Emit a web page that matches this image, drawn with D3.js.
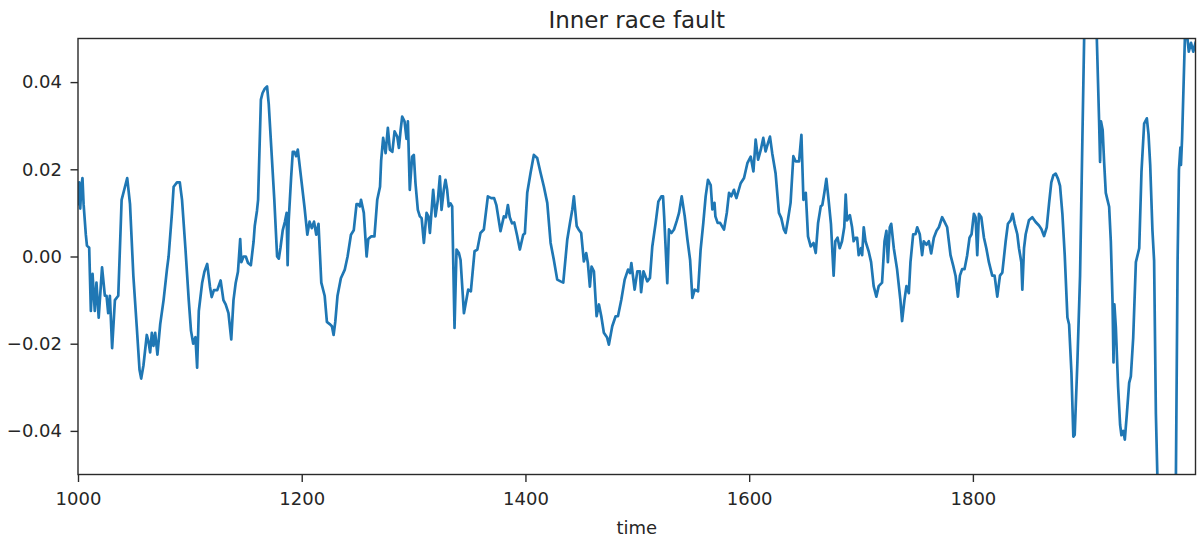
<!DOCTYPE html>
<html>
<head>
<meta charset="utf-8">
<script src="https://cdn.jsdelivr.net/npm/d3@7"></script>
<style>
  html, body { margin: 0; padding: 0; background: #ffffff; }
  svg { display: block; font-family: "DejaVu Sans", sans-serif; }
</style>
</head>
<body>
<svg id="chart" width="1204" height="542"></svg>
<script>
// Vibration signal, samples 1000–1999
const times = [
  1000, 1001, 1002, 1003, 1004, 1005, 1007, 1008, 1010, 1011.5, 1013, 1015, 1016.5, 1018.5, 1021.5, 1024, 1025.5, 1027, 1028.5, 1030.5,
  1033, 1036, 1039, 1042, 1044, 1046.5, 1049.5, 1052.5, 1055, 1056.5, 1058.5, 1061.5, 1063, 1064.5, 1066, 1067.5, 1069, 1071, 1073.5, 1076.5,
  1079.5, 1081, 1084, 1085.5, 1088.5, 1091, 1093, 1096, 1099, 1101, 1103, 1105, 1106.5, 1108, 1111, 1113, 1115.5, 1118, 1119.5, 1121.5,
  1124.5, 1127.5, 1130, 1132, 1134.5, 1137, 1139, 1141, 1143, 1145, 1146, 1148, 1150, 1152, 1154.5, 1157, 1158, 1160, 1161, 1163.5,
  1165, 1167, 1169, 1170.5, 1173, 1175.5, 1178, 1179.5, 1181, 1183, 1185, 1186.5, 1187.4, 1188.3, 1190.5, 1192, 1193.5, 1195, 1196.5, 1199,
  1202.5, 1205, 1207, 1209, 1211, 1213, 1215, 1217.5, 1220.5, 1222.5, 1225, 1227, 1228.5, 1230, 1232, 1235, 1238.5, 1241, 1244, 1246.5,
  1249, 1250.5, 1252, 1253, 1255.5, 1258, 1259.5, 1262, 1265, 1267.5, 1270, 1271, 1272.8, 1275, 1277, 1278.8, 1281, 1283, 1285.4, 1286.9,
  1288.4, 1289.8, 1291.9, 1293.7, 1294.9, 1296.6, 1298.7, 1300.2, 1301.7, 1303.8, 1305.6, 1307.2, 1309.2, 1311.6, 1313.2, 1314.6, 1317.5, 1319.6, 1321.7, 1323.5,
  1325, 1327, 1328.5, 1330, 1331.4, 1333, 1334.5, 1336.6, 1338.4, 1340.5, 1342, 1345, 1348.8, 1351.2, 1354.5, 1357, 1359.8, 1362.8, 1366.4, 1369.4,
  1372, 1374, 1377.7, 1380.7, 1382.5, 1384.3, 1386, 1388, 1390, 1392.4, 1395, 1398, 1399.5, 1401.6, 1404.6, 1407.5, 1410.5, 1413.5, 1416.5, 1419.5,
  1422.5, 1425.4, 1428.4, 1431.4, 1433.8, 1437.4, 1439.8, 1441.9, 1443.3, 1445.8, 1447.5, 1449.8, 1452.2, 1454.3, 1455.8, 1457.6, 1459.1, 1461.2, 1463.6, 1465.7,
  1467.8, 1470.1, 1473, 1474.6, 1477.6, 1480.6, 1482.7, 1485.7, 1488.7, 1491.7, 1493.5, 1494.7, 1497.6, 1500, 1502.3, 1503.4, 1505.5, 1508.9, 1511.3, 1513.4,
  1516.4, 1518.8, 1521.5, 1523, 1524, 1526.8, 1528.3, 1530.5, 1532.8, 1535.2, 1537.3, 1539.7, 1542.4, 1544.8, 1547.2, 1549.2, 1551.3, 1554.3, 1556.6, 1559,
  1561.1, 1563.2, 1565.6, 1567.1, 1569, 1569.8, 1571.8, 1574, 1577.5, 1580, 1582, 1584, 1586.4, 1588, 1588.6, 1592.4, 1595.4, 1598.4, 1601.4, 1603.8,
  1605.8, 1608, 1610.4, 1612.6, 1614.7, 1616.8, 1618.6, 1620.6, 1623.6, 1626.6, 1628.7, 1631, 1632.6, 1634.7, 1637, 1639.5, 1641.6, 1644.6, 1646.7, 1648.5,
  1650.6, 1652.6, 1655, 1657.5, 1659.5, 1661.6, 1664, 1665.4, 1667.2, 1669, 1671, 1673.1, 1675.5, 1677, 1679, 1680.9, 1683, 1685, 1686.3, 1687.5,
  1690, 1692, 1693.4, 1695, 1696.5, 1697.9, 1700, 1701, 1702.4, 1704, 1706.9, 1709, 1711.3, 1713.7, 1715.8, 1718.8, 1721, 1722.7, 1724, 1725.7,
  1727, 1729.3, 1732.2, 1735.2, 1736.7, 1738.8, 1740.6, 1742.7, 1744.2, 1746.6, 1748.7, 1750.2, 1752.5, 1754.6, 1756.1, 1758.5, 1760.6, 1762.7, 1765.1, 1767.5,
  1769.6, 1772.5, 1774, 1777, 1780, 1782.4, 1784.5, 1786.6, 1788.4, 1790.4, 1792.5, 1794.9, 1797, 1798.8, 1800.9, 1802.4, 1803.9, 1805.4, 1807.5, 1809.9,
  1812, 1814.3, 1817.3, 1819.4, 1821.8, 1824.2, 1826.3, 1829.3, 1831.3, 1833.7, 1835.5, 1837.3, 1839.7, 1841.2, 1843.3, 1844.2, 1845.7, 1847.2, 1850.1, 1853.1,
  1856.1, 1859.1, 1861.2, 1863.6, 1866, 1868.1, 1870.1, 1871.9, 1874, 1876.1, 1877.9, 1880, 1882.1, 1884.5, 1886, 1888.1, 1889.8, 1891, 1893.4, 1895.8,
  1897.9, 1900, 1903, 1906, 1909, 1911, 1912.8, 1913.7, 1914.5, 1916, 1917.3, 1918.8, 1920.3, 1921.8, 1923.3, 1924.8, 1925.7, 1926.5, 1927.8, 1929.8,
  1931.6, 1932.8, 1934.5, 1935.8, 1937.6, 1939.7, 1941.2, 1943.3, 1945.7, 1948.7, 1950.7, 1953.1, 1955.5, 1957, 1958.5, 1960.5, 1962, 1963.6, 1966, 1969,
  1973, 1977, 1980, 1981.5, 1983, 1984.2, 1985.5, 1986, 1987, 1989.5, 1991, 1993, 1995, 1997, 1999
];

const amplitude = [
  0.012, 0.017, 0.011, 0.016, 0.018, 0.012, 0.005, 0.0025, 0.002, -0.0125, -0.004, -0.0125, -0.006, -0.014, -0.0025, -0.009, -0.009, -0.013, -0.009, -0.021,
  -0.010, -0.009, 0.013, 0.016, 0.018, 0.012, -0.0045, -0.016, -0.026, -0.028, -0.025, -0.018, -0.0195, -0.022, -0.0175, -0.0205, -0.0175, -0.0225, -0.0155, -0.010,
  -0.003, 0.000, 0.010, 0.016, 0.017, 0.017, 0.013, 0.002, -0.010, -0.017, -0.020, -0.0185, -0.0255, -0.0125, -0.006, -0.0035, -0.0017, -0.007, -0.0093, -0.0077,
  -0.0077, -0.0055, -0.010, -0.011, -0.013, -0.019, -0.010, -0.006, -0.0035, 0.004, -0.0013, 0.000, 0.000, -0.0015, -0.002, 0.0035, 0.007, 0.0105, 0.013, 0.036,
  0.0375, 0.0385, 0.039, 0.035, 0.024, 0.013, 0.000, -0.0005, 0.002, 0.006, 0.008, 0.010, -0.002, 0.008, 0.018, 0.024, 0.024, 0.023, 0.0245, 0.019,
  0.0113, 0.005, 0.008, 0.0065, 0.008, 0.005, 0.0075, -0.006, -0.009, -0.015, -0.0155, -0.016, -0.018, -0.015, -0.009, -0.005, -0.003, 0.000, 0.005, 0.006,
  0.012, 0.012, 0.0115, 0.013, 0.010, 0.000, 0.004, 0.0046, 0.0046, 0.013, 0.016, 0.022, 0.0272, 0.0237, 0.0295, 0.0245, 0.024, 0.0287, 0.0275, 0.0249,
  0.029, 0.0321, 0.031, 0.027, 0.031, 0.0153, 0.0229, 0.0233, 0.0168, 0.0107, 0.0092, 0.0088, 0.0031, 0.010, 0.0092, 0.0054, 0.0153, 0.0092, 0.0130, 0.0184,
  0.0107, 0.0153, 0.0176, 0.0153, 0.0115, 0.0122, 0.0115, -0.0164, 0.0016, 0.0008, -0.0008, -0.013, -0.0076, -0.008, 0.0012, 0.0016, 0.0054, 0.0062, 0.0138, 0.0134,
  0.0134, 0.0118, 0.0058, 0.0092, 0.009, 0.0118, 0.009, 0.0076, 0.0078, 0.005, 0.0016, 0.005, 0.0053, 0.0146, 0.0192, 0.0233, 0.0226, 0.0192, 0.016, 0.0123,
  0.0031, -0.0008, -0.0053, -0.0057, -0.006, 0.0039, 0.0077, 0.0108, 0.0138, 0.007, 0.0062, 0.0054, -0.0011, 0.0008, -0.0015, -0.0069, -0.0023, -0.0034, -0.0137, -0.011,
  -0.0137, -0.0175, -0.0186, -0.0202, -0.016, -0.0137, -0.0137, -0.0099, -0.0053, -0.003, -0.0038, -0.0015, -0.0076, -0.0034, -0.0034, -0.0082, -0.0034, -0.0057, -0.0049, 0.0023,
  0.0077, 0.0126, 0.0138, 0.0138, 0.0092, -0.0061, 0.0062, 0.0054, 0.0062, 0.0081, 0.010, 0.0138, 0.0092, 0.0039, -0.0008, -0.0095, -0.0076, -0.008, 0.0016, 0.0077,
  0.0138, 0.0176, 0.0164, 0.0108, 0.0123, 0.0092, 0.0077, 0.0077, 0.0062, 0.010, 0.0146, 0.0138, 0.0153, 0.0138, 0.0134, 0.0168, 0.018, 0.0214, 0.0229, 0.0195,
  0.0268, 0.0222, 0.0245, 0.0272, 0.0241, 0.026, 0.0275, 0.0237, 0.0191, 0.010, 0.0088, 0.0062, 0.0054, 0.0085, 0.0123, 0.023, 0.0218, 0.0218, 0.0279, 0.013,
  0.0146, 0.0046, 0.0023, 0.0031, 0.0008, 0.0077, 0.0115, 0.0118, 0.0146, 0.0178, 0.013, 0.0075, -0.0044, 0.0035, 0.0043, 0.0019, 0.0035, 0.0067, 0.0142, 0.0083,
  0.0095, 0.0067, 0.0035, 0.0043, 0.0043, 0.0003, 0.0019, 0.0003, 0.0067, 0.0035, 0.0011, -0.0013, -0.0068, -0.0092, -0.0068, -0.006, 0.0035, 0.0059, -0.0013, 0.0067,
  0.0075, 0.0019, -0.0029, -0.010, -0.0148, -0.010, -0.0068, -0.0084, -0.0013, 0.0051, 0.0051, 0.0067, 0.0051, 0.0003, 0.0035, 0.0027, 0.0035, 0.0007, 0.0043, 0.0059,
  0.0067, 0.009, 0.0083, 0.0067, 0.0003, -0.0021, -0.0044, -0.0092, -0.0044, -0.0029, -0.0029, 0.0003, 0.0043, 0.0051, 0.0098, 0.009, 0.0003, 0.0098, 0.009, 0.0043,
  0.0019, -0.0013, -0.0044, -0.0044, -0.0092, -0.0044, -0.0037, 0.0035, 0.0075, 0.0083, 0.0098, 0.0075, 0.0051, 0.0019, -0.0013, -0.0076, 0.0019, 0.0051, 0.0083, 0.009,
  0.0079, 0.0071, 0.0063, 0.0047, 0.0067, 0.0122, 0.017, 0.0186, 0.019, 0.0178, 0.0162, 0.0098, 0.0003, -0.014, -0.0156, -0.0267, -0.0413, -0.0409, -0.0243, -0.0044,
  0.0273, 0.058, 0.075, 0.078, 0.066, 0.048, 0.0313, 0.0217, 0.031, 0.029, 0.0217, 0.0146, 0.013, 0.0114, 0.0035, -0.010, -0.0243, -0.011, -0.0163, -0.0298,
  -0.0386, -0.041, -0.040, -0.042, -0.0362, -0.029, -0.0275, -0.0187, -0.0013, 0.0019, 0.0194, 0.0305, 0.0317, 0.028, 0.021, 0.006, -0.001, -0.0362, -0.062, -0.085,
  -0.095, -0.090, -0.075, -0.050, -0.001, 0.0199, 0.025, 0.021, 0.027, 0.050, 0.052, 0.047, 0.049, 0.047, 0.049
];

const xTicks = [1000, 1200, 1400, 1600, 1800];
const yTicks = [-0.04, -0.02, 0.00, 0.02, 0.04];
const titleText = "Inner race fault";
const xLabelText = "time";

const svg = d3.select("#chart");
const W = 1204, H = 542;
const plot = { left: 78, right: 1195.5, top: 38.5, bottom: 474.5 };

const x = d3.scaleLinear().domain([1000, 1999]).range([plot.left, plot.right]);
const y = d3.scaleLinear().domain([-0.05, 0.05]).range([plot.bottom, plot.top]);

const series = times.map((t, i) => ({ t, v: amplitude[i] }));

// clip the trace to the axes box
svg.append("defs").append("clipPath").attr("id", "plot-clip")
  .append("rect")
  .attr("x", plot.left).attr("y", plot.top)
  .attr("width", plot.right - plot.left).attr("height", plot.bottom - plot.top);

const line = d3.line().x(d => x(d.t)).y(d => y(d.v));

svg.append("path")
  .datum(series)
  .attr("clip-path", "url(#plot-clip)")
  .attr("fill", "none")
  .attr("stroke", "#1f77b4")
  .attr("stroke-width", 2.7)
  .attr("stroke-linejoin", "round")
  .attr("stroke-linecap", "square")
  .attr("d", line);

// axes
const fmtY = d3.format(".2f");
const xAxis = svg.append("g")
  .attr("transform", `translate(0,${plot.bottom})`)
  .call(d3.axisBottom(x).tickValues(xTicks).tickFormat(d3.format("d")).tickSize(7.5).tickPadding(10));
const yAxis = svg.append("g")
  .attr("transform", `translate(${plot.left},0)`)
  .call(d3.axisLeft(y).tickValues(yTicks).tickFormat(fmtY).tickSize(7.5).tickPadding(8.5));

[xAxis, yAxis].forEach(g => {
  g.select(".domain").remove();
  g.selectAll(".tick line").attr("stroke", "#2a2a2a").attr("stroke-width", 1.4);
  g.selectAll(".tick text")
    .attr("fill", "#262626")
    .style("font-family", "'DejaVu Sans', sans-serif")
    .style("font-size", "18px");
});

// frame
svg.append("rect")
  .attr("x", plot.left).attr("y", plot.top)
  .attr("width", plot.right - plot.left).attr("height", plot.bottom - plot.top)
  .attr("fill", "none")
  .attr("stroke", "#2a2a2a")
  .attr("stroke-width", 1.4);

// title and axis label
svg.append("text")
  .attr("x", (plot.left + plot.right) / 2)
  .attr("y", 28)
  .attr("text-anchor", "middle")
  .attr("fill", "#262626")
  .style("font-size", "23px")
  .text(titleText);

svg.append("text")
  .attr("x", (plot.left + plot.right) / 2)
  .attr("y", 534)
  .attr("text-anchor", "middle")
  .attr("fill", "#262626")
  .style("font-size", "18px")
  .text(xLabelText);
</script>
</body>
</html>
